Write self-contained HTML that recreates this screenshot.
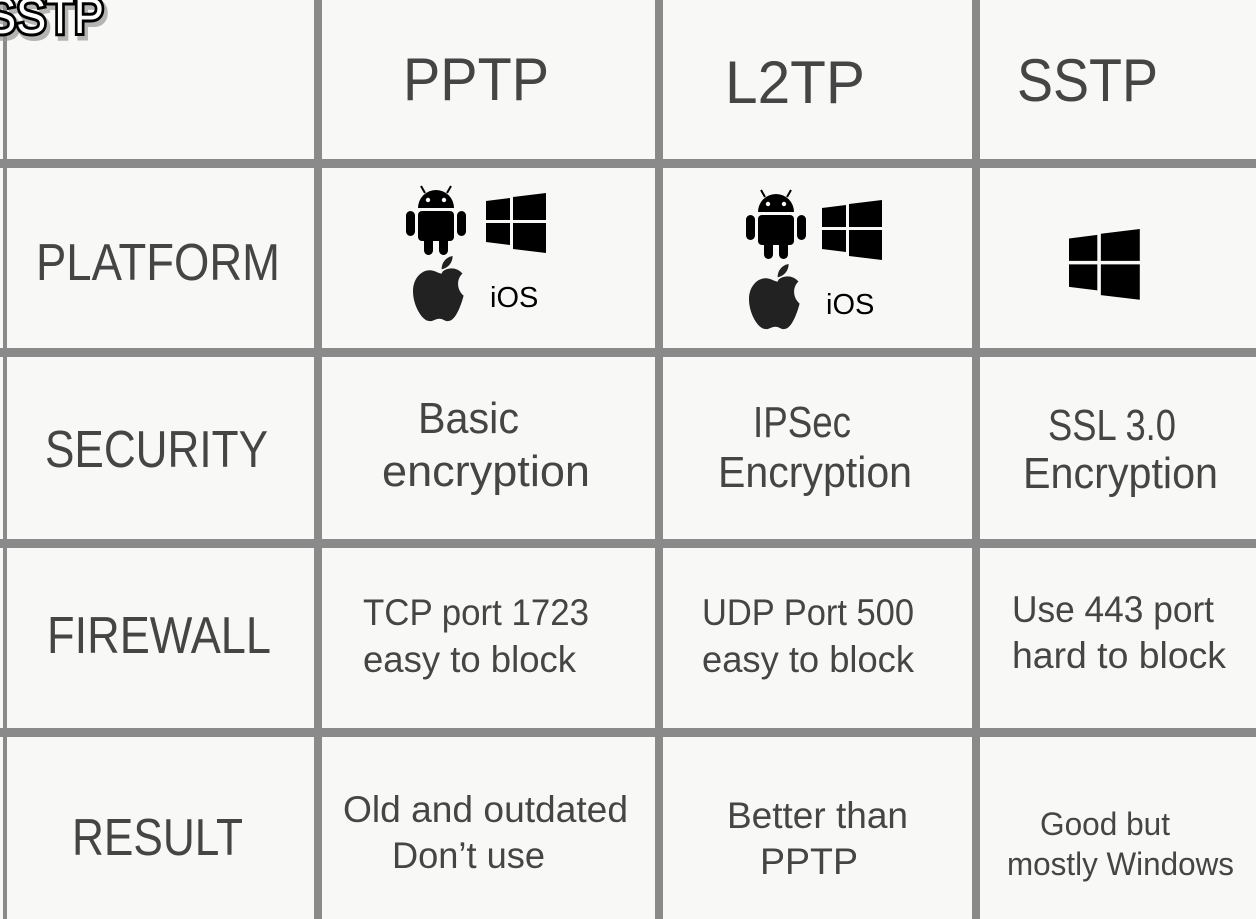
<!DOCTYPE html>
<html><head><meta charset="utf-8"><style>
html,body{margin:0;padding:0;background:#f8f8f6;}
svg{display:block;}
text{font-family:"Liberation Sans",sans-serif;fill:#454545;}
</style></head><body>
<svg width="1256" height="919" viewBox="0 0 1256 919" xmlns="http://www.w3.org/2000/svg">
<defs>
<g id="win"><path d="M0,8 L24,5 L24,27 L0,27Z M27,4 L60,0 L60,27 L27,27Z M0,30 L24,30 L24,52 L0,49Z M27,30 L60,30 L60,60 L27,56Z" fill="#000"/></g>
<g id="droid" fill="#000">
<path d="M12,23 A18,18 0 0 1 48,23 Z"/>
<line x1="19" y1="8" x2="15" y2="1" stroke="#000" stroke-width="2"/>
<line x1="41" y1="8" x2="45" y2="1" stroke="#000" stroke-width="2"/>
<circle cx="22" cy="15" r="2.2" fill="#f8f8f6"/><circle cx="38" cy="15" r="2.2" fill="#f8f8f6"/>
<rect x="12" y="26" width="36" height="30" rx="4"/>
<rect x="0" y="26" width="9" height="25" rx="4.5"/><rect x="51" y="26" width="9" height="25" rx="4.5"/>
<rect x="18" y="48" width="9" height="22" rx="4.5"/><rect x="33" y="48" width="9" height="22" rx="4.5"/>
</g>
<g id="apple" fill="#222">
<path d="M27,14 C32,10 40,10 45,16 C40,20 39,30 46,36 C44,44 39,58 33,59 C29,60 28,57 24,57 C20,57 18,60 14,59 C8,58 0,45 0,32 C0,20 8,13 15,13 C20,13 23,16 26,16 Z"/>
<path d="M26,12 C26,6 30,1 36,0 C36,6 32,11 26,12Z"/>
</g>
</defs>
<rect width="1256" height="919" fill="#f8f8f6"/>
<g fill="#8a8a8a">
<rect x="3" y="0" width="4" height="919"/>
<rect x="314" y="0" width="8" height="919"/>
<rect x="655" y="0" width="8" height="919"/>
<rect x="972" y="0" width="8" height="919"/>
<rect x="0" y="159" width="1256" height="9"/>
<rect x="0" y="348" width="1256" height="9"/>
<rect x="0" y="539" width="1256" height="9"/>
<rect x="0" y="728" width="1256" height="9"/>
</g>
<text x="-11" y="37" font-size="50" style="fill:#999" stroke="#999" stroke-width="7" textLength="118" lengthAdjust="spacingAndGlyphs" opacity="0.7">SSTP</text>
<text x="-14" y="33" font-size="50" stroke="#000" stroke-width="6" paint-order="stroke" style="fill:#fff" textLength="118" lengthAdjust="spacingAndGlyphs">SSTP</text>

<text x="403" y="100" font-size="60" textLength="146" lengthAdjust="spacingAndGlyphs">PPTP</text>
<text x="725" y="103" font-size="60" textLength="140" lengthAdjust="spacingAndGlyphs">L2TP</text>
<text x="1017" y="101" font-size="60" textLength="141" lengthAdjust="spacingAndGlyphs">SSTP</text>

<text x="36" y="280" font-size="52" textLength="244" lengthAdjust="spacingAndGlyphs">PLATFORM</text>
<text x="45" y="467" font-size="52" textLength="223" lengthAdjust="spacingAndGlyphs">SECURITY</text>
<text x="47" y="653" font-size="52" textLength="224" lengthAdjust="spacingAndGlyphs">FIREWALL</text>
<text x="72" y="855" font-size="52" textLength="171" lengthAdjust="spacingAndGlyphs">RESULT</text>

<use href="#droid" x="406" y="185"/>
<use href="#win" x="486" y="193"/>
<g transform="translate(413,256) scale(1.1)"><use href="#apple"/></g>
<text x="490" y="307" font-size="29" style="fill:#000">iOS</text>
<use href="#droid" x="746" y="189"/>
<use href="#win" x="822" y="200"/>
<g transform="translate(749,264) scale(1.1)"><use href="#apple"/></g>
<text x="826" y="314" font-size="29" style="fill:#000">iOS</text>
<g transform="translate(1069,229) scale(1.18)"><use href="#win"/></g>

<text x="418" y="433" font-size="44" textLength="101" lengthAdjust="spacingAndGlyphs">Basic</text>
<text x="382" y="486" font-size="44" textLength="208" lengthAdjust="spacingAndGlyphs">encryption</text>
<text x="753" y="437" font-size="44" textLength="98" lengthAdjust="spacingAndGlyphs">IPSec</text>
<text x="718" y="487" font-size="44" textLength="194" lengthAdjust="spacingAndGlyphs">Encryption</text>
<text x="1048" y="440" font-size="44" textLength="128" lengthAdjust="spacingAndGlyphs">SSL 3.0</text>
<text x="1023" y="488" font-size="44" textLength="195" lengthAdjust="spacingAndGlyphs">Encryption</text>

<text x="363" y="625" font-size="37" textLength="226" lengthAdjust="spacingAndGlyphs">TCP port 1723</text>
<text x="363" y="672" font-size="37" textLength="213" lengthAdjust="spacingAndGlyphs">easy to block</text>
<text x="702" y="625" font-size="37" textLength="212" lengthAdjust="spacingAndGlyphs">UDP Port 500</text>
<text x="702" y="672" font-size="37" textLength="212" lengthAdjust="spacingAndGlyphs">easy to block</text>
<text x="1012" y="622" font-size="37" textLength="202" lengthAdjust="spacingAndGlyphs">Use 443 port</text>
<text x="1012" y="668" font-size="37" textLength="214" lengthAdjust="spacingAndGlyphs">hard to block</text>

<text x="343" y="822" font-size="37" textLength="285" lengthAdjust="spacingAndGlyphs">Old and outdated</text>
<text x="392" y="868" font-size="37" textLength="153" lengthAdjust="spacingAndGlyphs">Don’t use</text>
<text x="727" y="828" font-size="37" textLength="181" lengthAdjust="spacingAndGlyphs">Better than</text>
<text x="760" y="874" font-size="37" textLength="98" lengthAdjust="spacingAndGlyphs">PPTP</text>
<text x="1040" y="835" font-size="32" textLength="130" lengthAdjust="spacingAndGlyphs">Good but</text>
<text x="1007" y="875" font-size="32" textLength="227" lengthAdjust="spacingAndGlyphs">mostly Windows</text>
</svg>
</body></html>
